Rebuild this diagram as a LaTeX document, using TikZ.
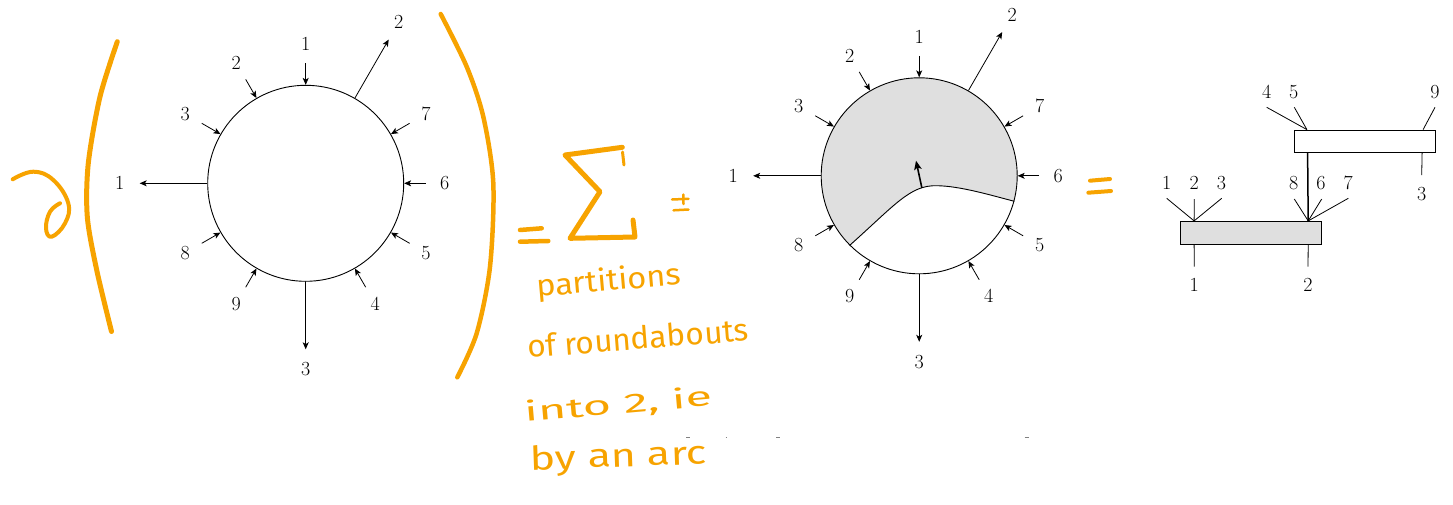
\documentclass[tikz,border=0pt]{standalone}
\usepackage{fontspec}
\usepackage{graphicx}
\usetikzlibrary{calc,arrows.meta,backgrounds}
\newfontfamily\handfont{Fira Sans}
\definecolor{hand}{RGB}{247,163,0}
\definecolor{greyfill}{RGB}{223,223,223}
\begin{document}
\begin{tikzpicture}[x=1pt,y=-1pt,
  lbl/.style={font=\fontsize{20}{24}\selectfont, inner sep=0pt},
  leg/.style={line width=0.8pt},
  inarr/.style={leg,-{Stealth[length=7pt,width=6pt,inset=1.8pt]}},
  outarr/.style={leg,-{Stealth[length=7pt,width=6pt,inset=1.8pt]}},
  ring/.style={circle,draw,line width=0.9pt,minimum size=196pt,inner sep=0pt},
  hstroke/.style={draw=hand,line cap=round,line join=round,line width=4.5pt},
  box/.style={draw,line width=0.8pt,minimum width=141pt,minimum height=22.7pt,inner sep=0pt},
  htext/.style={text=hand,inner sep=0pt,anchor=base west}
]
\useasboundingbox (0,0) rectangle (1453,504);

% ---------- roundabouts ----------
\foreach \C/\cx/\cy in {LC/305.7/183.3, MC/919.2/175.8}{
  \node[ring] (\C) at (\cx,\cy) {};
  \foreach \a/\n in {90/1,120/2,150/3,210/8,240/9,300/4,330/5,0/6,30/7}{
    \coordinate (\C-i\n) at ($(\C.center)!120pt!(\C.\a)$);
    \draw[inarr] (\C-i\n) -- (\C.\a);
    \node[lbl] (\C-li\n) at ($(\C.center)!139pt!(\C.\a)$) {\n};
  }
  \foreach \a/\n in {180/1,270/3,60/2}{
    \coordinate (\C-o\n) at ($(\C.center)!166pt!(\C.\a)$);
    \draw[outarr] (\C.\a) -- (\C-o\n);
    \node[lbl] (\C-lo\n) at ($(\C.center)!186pt!(\C.\a)$) {\n};
  }
}

% shaded part of the middle roundabout
\begin{scope}[on background layer]
  \clip (MC.center) circle[radius=98];
  \fill[greyfill] (MC.225) .. controls (895,205) and (910,185) .. (936.7,185.7)
     .. controls (960,186) and (990,195) .. (MC.345)
     -- (1040,195) -- (1040,60) -- (800,60) -- (800,270) -- cycle;
\end{scope}
\draw[line width=0.9pt] (MC.225) .. controls (895,205) and (910,185) .. (936.7,185.7)
     .. controls (960,186) and (990,195) .. (MC.345);
\coordinate (MCa) at (921.9,188.0);
\coordinate (MCb) at (916,160.7);
\draw[line width=1.6pt,-{Stealth[length=9pt,width=7.5pt,inset=2pt]}] (MCa) -- (MCb);

% ---------- right tree ----------
\node[box] (TB) at (1364.8,141.35) {};
\node[box,fill=greyfill] (BB) at (1251,232.65) {};
\coordinate (BBin) at ($(BB.north west)+(14,0)$);
\coordinate (BBjoin) at ($(BB.north east)+(-13.7,0)$);
\coordinate (TBjoin) at ($(TB.south west)+(13.7,0)$);
\coordinate (TBin) at ($(TB.north west)+(13,0)$);
\coordinate (TB9) at ($(TB.north east)+(-12.6,0)$);
\coordinate (TBout) at ($(TB.south east)+(-13.6,0)$);
\coordinate (BBo1) at ($(BB.south west)+(14,0)$);
\coordinate (BBo2) at ($(BB.south east)+(-13.7,0)$);
\draw[line width=1.5pt] (TBjoin) -- (BBjoin);

\foreach \n/\ex/\ey/\tgt in {
   a1/1166.7/198.3/BBin, a2/1194.3/199/BBin, a3/1221.7/198.3/BBin,
   b8/1294.3/199/BBjoin, b6/1321.7/199/BBjoin, b7/1348.3/198.3/BBjoin,
   c4/1266.7/107.3/TBin, c5/1294.3/107.3/TBin,
   d9/1435/107.3/TB9}{
  \coordinate (E\n) at (\ex,\ey);
  \draw[leg] (E\n) -- (\tgt);
}
\foreach \n/\t/\lx/\ly in {a1/1/1166.7/182.7, a2/2/1194.3/182.7, a3/3/1221.4/182.7,
   b8/8/1293.6/182.7, b6/6/1321/182.7, b7/7/1348.3/182.7,
   c4/4/1266.7/91.7, c5/5/1293.6/91.7, d9/9/1435/91.7}{
  \node[lbl] (L\n) at (\lx,\ly) {\t};
}
\coordinate (Eo1) at (1194.3,266.7);
\coordinate (Eo2) at (1308,266.7);
\coordinate (Eo3) at (1421.7,175);
\draw[leg] (BBo1) -- (Eo1);
\draw[leg] (BBo2) -- (Eo2);
\draw[leg] (TBout) -- (Eo3);
\node[lbl] (Lo1) at (1194.3,285) {1};
\node[lbl] (Lo2) at (1308,285) {2};
\node[lbl] (Lo3) at (1421.7,194) {3};

% ---------- handwriting ----------
% partial derivative
\draw[hstroke,line width=4pt] plot[smooth,tension=0.7] coordinates
  {(12.7,179.3) (33.3,171.7) (53.3,180) (68.3,203.3) (65,223.3) (51.7,236.7) (46,228.3) (50,211.7) (60,203.3)};
% parentheses
\draw[hstroke,line width=5pt] plot[smooth] coordinates
  {(117.3,41.7) (100,96.7) (88.3,163.3) (87.3,216.7) (96.7,270) (111.5,331.5)};
\draw[hstroke,line width=4.5pt] plot[smooth] coordinates
  {(440.7,14) (466.7,66.7) (483.3,116.7) (493.3,183.3) (490,266.7) (476.7,333.3) (457.3,377.3)};
% = sign
\draw[hstroke] (520,230) -- (541.7,228.3);
\draw[hstroke] (520,241.7) -- (548.3,241);
% sigma
\draw[hstroke,line width=5pt] (622.3,147.3) -- (565,155) -- (600,191.7) -- (570,238.3) -- (635,237) -- (633,220);
\draw[hstroke,line width=3pt] (622.5,152) -- (624,165);
% plus-minus
\draw[hstroke,line width=2.5pt] (683.3,194.5) -- (683.5,204);
\draw[hstroke,line width=2.5pt] (672,199.5) -- (688.5,198.8);
\draw[hstroke,line width=2.5pt] (673.5,210.3) -- (688.5,209.5);
% second = sign
\draw[hstroke,line width=4pt] (1090,180.7) -- (1110,179);
\draw[hstroke,line width=4pt] (1088.3,192.7) -- (1111,191);
% text
\node[htext,rotate=5] (T1) at (537,297) {\resizebox{145pt}{3.0\height}{\handfont partitions}};
\node[htext,rotate=4.5] (T2) at (528,358) {\resizebox{222pt}{3.1\height}{\handfont of roundabouts}};
\node[htext,rotate=5] (T3) at (525,422) {\resizebox{188pt}{2.7\height}{\handfont into 2, ie}};
\node[htext,rotate=2] (T4) at (530,470) {\resizebox{177pt}{3.3\height}{\handfont by an arc}};

% small grey marks
\draw[gray,line width=1pt] (686,437.3) -- (690,437.3);
\draw[gray,line width=1pt] (725.5,437.3) -- (726.8,437.3);
\draw[gray,line width=1pt] (776,437.3) -- (779.5,437.3);
\draw[gray,line width=1pt] (1024.5,437.3) -- (1029,437.3);
\end{tikzpicture}
\end{document}
